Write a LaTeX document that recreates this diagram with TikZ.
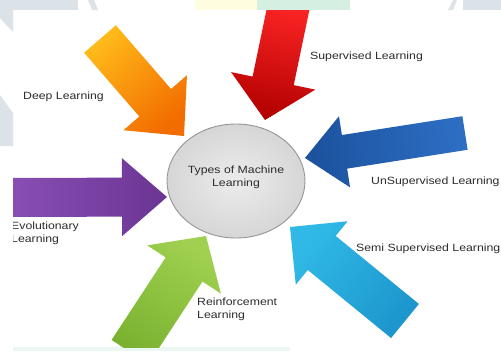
\documentclass[tikz,border=0pt]{standalone}
\usepackage{fontspec}
\setmainfont{Liberation Sans}[FakeStretch=1.17]
\usetikzlibrary{calc,shapes.geometric}
\definecolor{wm}{HTML}{DCE3E8}
\definecolor{wmy}{HTML}{FFFDE0}
\definecolor{wmg}{HTML}{D5F0E3}
\definecolor{txt}{HTML}{2C2C2C}
\newcommand{\bigarrow}[7]{%
  \coordinate (#1-t) at #2;
  \coordinate (#1-p) at #3;
  \coordinate (#1-b) at ($(#1-p)!#6!(#1-t)$);
  \shade[#7] ($(#1-t)!#4!90:(#1-p)$) -- ($(#1-b)!#4!90:(#1-p)$) -- ($(#1-b)!#5!90:(#1-p)$)
    -- (#1-p) -- ($(#1-b)!#5!-90:(#1-p)$) -- ($(#1-b)!#4!-90:(#1-p)$) -- ($(#1-t)!#4!-90:(#1-p)$) -- cycle;
}
\tikzset{
  lbl/.style={font=\fontsize{10.5}{12.5}\selectfont, text=txt, inner sep=0pt, align=left},
}
\begin{document}
\begin{tikzpicture}[x=1pt,y=-1pt]
\useasboundingbox (0,0) rectangle (501,351);
\fill[white] (0,0) rectangle (501,351);
% watermark remnants
\fill[wm] (0,0) -- (78,0) -- (78,10) -- (0,10) -- cycle;
\fill[wm] (0,10) -- (13,10) -- (13,32) -- (0,18) -- cycle;
\fill[wm] (0,95) -- (13,113) -- (13,146) -- (0,146) -- cycle;
\fill[wm] (88,0) -- (94,0) -- (98,10) -- (92,10) -- cycle;
\fill[wmy] (195,0) rectangle (257,10);
\fill[wmg] (257,0) rectangle (350,10);
\fill[wm] (448,10) -- (453,0) -- (457,0) -- (453,10) -- cycle;
\fill[wm] (463,0) rectangle (501,10);
\fill[wmg!50] (13,347) rectangle (290,351);
\begin{scope}
\clip (13,10) rectangle (501,347);
\bigarrow{deep}{(100,39)}{(184,136)}{21pt}{42pt}{44pt}{top color=orange!60!yellow!90!white, bottom color=orange!90!red!95!black, shading angle=41}
\bigarrow{sup}{(290,0)}{(265,120)}{21pt}{43pt}{40pt}{top color=red!85!white, bottom color=red!70!black, shading angle=-12}
\bigarrow{unsup}{(465,133)}{(305,158)}{17pt}{36pt}{40pt}{top color={rgb,255:red,45;green,110;blue,195}, bottom color={rgb,255:red,28;green,82;blue,158}, shading angle=-81}
\bigarrow{evo}{(5,197.5)}{(167,197)}{19.5pt}{39pt}{45pt}{top color={rgb,255:red,138;green,79;blue,181}, bottom color={rgb,255:red,107;green,53;blue,148}, shading angle=90}
\bigarrow{rein}{(130,352)}{(206,236)}{22pt}{44pt}{40pt}{top color={rgb,255:red,122;green,178;blue,48}, bottom color={rgb,255:red,160;green,208;blue,80}, shading angle=146.8}
\bigarrow{semi}{(405,321)}{(290,227)}{22pt}{41pt}{41pt}{top color={rgb,255:red,28;green,150;blue,205}, bottom color={rgb,255:red,48;green,185;blue,230}, shading angle=-129}
\node[lbl, anchor=base west] (evol) at (11,242) {Evolutionary\\Learning};
\end{scope}
\node[ellipse, draw={rgb,255:red,150;green,150;blue,150}, line width=0.9pt,
      inner color={rgb,255:red,236;green,236;blue,236}, outer color={rgb,255:red,214;green,214;blue,214},
      minimum width=138pt, minimum height=114pt] (core) at (236,181) {};
\node[lbl, align=center] (title) at (236,177.5) {Types of Machine\\Learning};
\node[lbl, anchor=base west] (deepl) at (23,99.5) {Deep Learning};
\node[lbl, anchor=base west] (supl) at (310,59) {Supervised Learning};
\node[lbl, anchor=base west] (unsupl) at (371,184) {UnSupervised Learning};
\node[lbl, anchor=base west] (semil) at (356,251) {Semi Supervised Learning};
\node[lbl, anchor=base west] (reinl) at (197,318) {Reinforcement\\Learning};
\end{tikzpicture}
\end{document}
